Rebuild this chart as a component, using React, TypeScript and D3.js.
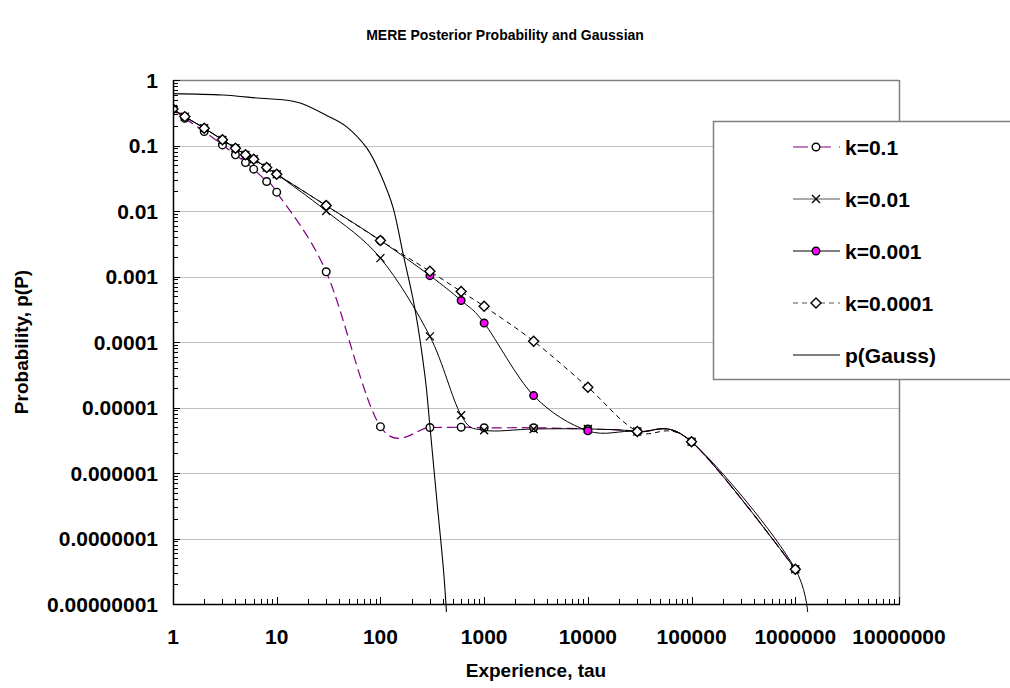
import React from "react";
import * as d3 from "d3";

const W = 1010;
const H = 688;

const chartTitle = "MERE Posterior Probability and Gaussian";
const xTitle = "Experience, tau";
const yTitle = "Probability, p(P)";

const xTickValues = [1, 10, 100, 1000, 10000, 100000, 1000000, 10000000];
const xTickLabels = ["1", "10", "100", "1000", "10000", "100000", "1000000", "10000000"];
const yTickValues = [1, 0.1, 0.01, 0.001, 0.0001, 0.00001, 0.000001, 0.0000001, 0.00000001];
const yTickLabels = ["1", "0.1", "0.01", "0.001", "0.0001", "0.00001", "0.000001", "0.0000001", "0.00000001"];

const tauK = [1, 1.3, 2, 3, 4, 5, 6, 8, 10, 30, 100, 300, 600, 1000, 3000, 10000, 30000, 100000, 1000000];
const tauK001 = [1, 1.3, 2, 3, 4, 5, 6, 8, 10, 30, 100, 300, 600, 1000, 3000, 10000, 30000, 100000, 1000000, 1300000];

const pK01 = [0.361, 0.261, 0.163, 0.102, 0.072, 0.0549, 0.0435, 0.0282, 0.0194, 0.00118, 5.1e-6, 4.95e-6, 5.0e-6, 4.9e-6, 4.9e-6, 4.7e-6, 4.3e-6, 3.0e-6, 3.4e-8];
const pK001 = [0.361, 0.276, 0.184, 0.122, 0.091, 0.072, 0.0618, 0.046, 0.0365, 0.0100, 0.00191, 1.22e-4, 7.6e-6, 4.5e-6, 4.7e-6, 4.7e-6, 4.3e-6, 3.0e-6, 3.4e-8];
const pK0001 = [0.361, 0.276, 0.184, 0.122, 0.091, 0.072, 0.0618, 0.046, 0.0365, 0.0121, 0.00355, 0.00103, 4.3e-4, 1.95e-4, 1.52e-5, 4.4e-6, 4.3e-6, 3.0e-6, 3.4e-8, 2e-9];
const pK00001 = [0.361, 0.276, 0.184, 0.122, 0.091, 0.072, 0.0618, 0.046, 0.0365, 0.0121, 0.00355, 0.0012, 5.9e-4, 3.5e-4, 1.03e-4, 2.04e-5, 4.3e-6, 3.0e-6, 3.4e-8];

const tauGauss = [1, 3, 6.9, 12, 17.9, 30, 47, 74, 99, 133, 166, 216, 269, 301, 349, 405, 440];
const pGauss = [0.62, 0.59, 0.526, 0.495, 0.43, 0.29, 0.194, 0.091, 0.038, 0.011, 0.00215, 3.1e-4, 3.0e-5, 4.9e-6, 4.0e-7, 3.4e-8, 5e-9];

const legendLabels = ["k=0.1", "k=0.01", "k=0.001", "k=0.0001", "p(Gauss)"];

const PL = 173, PR = 899, PT = 80, PB = 604;
const FONT = "'Liberation Sans', Arial, Helvetica, sans-serif";

export default function App() {
  const x = d3.scaleLog().domain([1, 1e7]).range([PL, PR]);
  const y = d3.scaleLog().domain([1e-8, 1]).range([PB, PT]);

  const line = (xs: number[], ys: number[]) =>
    d3
      .line<number>()
      .x((_, i) => x(xs[i]))
      .y((_, i) => y(ys[i]))
      .curve(d3.curveCardinal.tension(0))(ys) as string;

  const xMinor: number[] = [];
  for (let e = 0; e < 7; e++) for (let m = 2; m <= 9; m++) xMinor.push(m * Math.pow(10, e));
  const yMinor: number[] = [];
  for (let e = -8; e < 0; e++) for (let m = 2; m <= 9; m++) yMinor.push(m * Math.pow(10, e));

  const circle = (cx: number, cy: number, fill: string, key: string) => (
    <circle key={key} cx={cx} cy={cy} r={3.8} fill={fill} stroke="#000" strokeWidth={1.4} />
  );
  const cross = (cx: number, cy: number, key: string) => (
    <path key={key} d={`M${cx - 4},${cy - 4}L${cx + 4},${cy + 4}M${cx - 4},${cy + 4}L${cx + 4},${cy - 4}`} stroke="#000" strokeWidth={1.3} fill="none" />
  );
  const diamond = (cx: number, cy: number, key: string) => (
    <path key={key} d={`M${cx},${cy - 5}L${cx + 5},${cy}L${cx},${cy + 5}L${cx - 5},${cy}Z`} fill="#fff" stroke="#000" strokeWidth={1.4} />
  );

  const legendTop = 121;
  const legendRows = [147, 199, 251, 303, 355];
  const lx0 = 793, lx1 = 840, lmx = 816;

  return (
    <svg width={W} height={H} style={{ position: "absolute", left: 0, top: 0, background: "#fff" }} fontFamily={FONT}>
      <rect x={0} y={0} width={W} height={H} fill="#fff" />
      <text x={505} y={40} textAnchor="middle" fontSize={14} fontWeight="bold">{chartTitle}</text>

      {/* gridlines */}
      {yTickValues.slice(1, -1).map((v, i) => (
        <line key={"g" + i} x1={PL} x2={PR} y1={Math.round(y(v)) + 0.5} y2={Math.round(y(v)) + 0.5} stroke="#c0c0c0" strokeWidth={1} />
      ))}
      {/* plot border top/right */}
      <line x1={PL} x2={PR} y1={PT + 0.5} y2={PT + 0.5} stroke="#808080" strokeWidth={1.5} />
      <line x1={PR + 0.5} x2={PR + 0.5} y1={PT} y2={PB} stroke="#808080" strokeWidth={1.5} />

      <defs>
        <clipPath id="plotClip">
          <rect x={PL} y={PT} width={PR - PL} height={PB - PT + 8} />
        </clipPath>
      </defs>

      <g clipPath="url(#plotClip)">
        <path d={line(tauK, pK01)} fill="none" stroke="#800080" strokeWidth={1.2} strokeDasharray="10,5" />
        {tauK.map((t, i) => circle(x(t), y(pK01[i]), "#fff", "a" + i))}
        <path d={line(tauK, pK001)} fill="none" stroke="#000" strokeWidth={1} />
        {tauK.map((t, i) => cross(x(t), y(pK001[i]), "b" + i))}
        <path d={line(tauK001, pK0001)} fill="none" stroke="#000" strokeWidth={1} />
        {tauK001.slice(0, -1).map((t, i) => circle(x(t), y(pK0001[i]), "#ff00ff", "c" + i))}
        <path d={line(tauK, pK00001)} fill="none" stroke="#000" strokeWidth={1} strokeDasharray="5,4" />
        {tauK.map((t, i) => diamond(x(t), y(pK00001[i]), "d" + i))}
        <path d={line(tauGauss, pGauss)} fill="none" stroke="#000" strokeWidth={1.1} />
      </g>

      {/* axes */}
      <line x1={PL + 0.5} x2={PL + 0.5} y1={PT} y2={PB + 1} stroke="#000" strokeWidth={1.5} />
      <line x1={PL} x2={PR + 1} y1={PB + 0.5} y2={PB + 0.5} stroke="#000" strokeWidth={1.5} />
      {xTickValues.map((v, i) => (
        <line key={"xt" + i} x1={Math.round(x(v)) + 0.5} x2={Math.round(x(v)) + 0.5} y1={PB} y2={PB - 7} stroke="#000" />
      ))}
      {xMinor.map((v, i) => (
        <line key={"xm" + i} x1={Math.round(x(v)) + 0.5} x2={Math.round(x(v)) + 0.5} y1={PB} y2={PB - 5} stroke="#000" />
      ))}
      {yTickValues.map((v, i) => (
        <line key={"yt" + i} x1={PL} x2={PL + 7} y1={Math.round(y(v)) + 0.5} y2={Math.round(y(v)) + 0.5} stroke="#000" />
      ))}
      {yMinor.map((v, i) => (
        <line key={"ym" + i} x1={PL} x2={PL + 5} y1={Math.round(y(v)) + 0.5} y2={Math.round(y(v)) + 0.5} stroke="#000" />
      ))}

      {xTickValues.map((v, i) => (
        <text key={"xl" + i} x={x(v)} y={644} textAnchor="middle" fontSize={21} fontWeight="bold">{xTickLabels[i]}</text>
      ))}
      {yTickValues.map((v, i) => (
        <text key={"yl" + i} x={158} y={y(v) + 7.5} textAnchor="end" fontSize={21} fontWeight="bold">{yTickLabels[i]}</text>
      ))}

      <text x={536} y={677} textAnchor="middle" fontSize={19} fontWeight="bold">{xTitle}</text>
      <text transform={`translate(28,${(PT + PB) / 2}) rotate(-90)`} textAnchor="middle" fontSize={19} fontWeight="bold">{yTitle}</text>

      {/* legend */}
      <rect x={713.5} y={legendTop + 0.5} width={320} height={379 - legendTop} fill="#fff" stroke="#808080" strokeWidth={1.5} />
      <line x1={lx0} x2={lx1} y1={legendRows[0]} y2={legendRows[0]} stroke="#800080" strokeWidth={1.2} strokeDasharray="15,8" />
      {circle(lmx, legendRows[0], "#fff", "l0")}
      <line x1={lx0} x2={lx1} y1={legendRows[1]} y2={legendRows[1]} stroke="#555" strokeWidth={1.2} />
      {cross(lmx, legendRows[1], "l1")}
      <line x1={lx0} x2={lx1} y1={legendRows[2]} y2={legendRows[2]} stroke="#000" strokeWidth={1} />
      {circle(lmx, legendRows[2], "#ff00ff", "l2")}
      <line x1={lx0} x2={lx1} y1={legendRows[3]} y2={legendRows[3]} stroke="#555" strokeWidth={1.2} strokeDasharray="5,4" />
      {diamond(lmx, legendRows[3], "l3")}
      <line x1={lx0} x2={lx1} y1={legendRows[4]} y2={legendRows[4]} stroke="#000" strokeWidth={1.1} />
      {legendLabels.map((t, i) => (
        <text key={"lt" + i} x={845} y={legendRows[i] + 7.5} fontSize={21} fontWeight="bold">{t}</text>
      ))}
    </svg>
  );
}
